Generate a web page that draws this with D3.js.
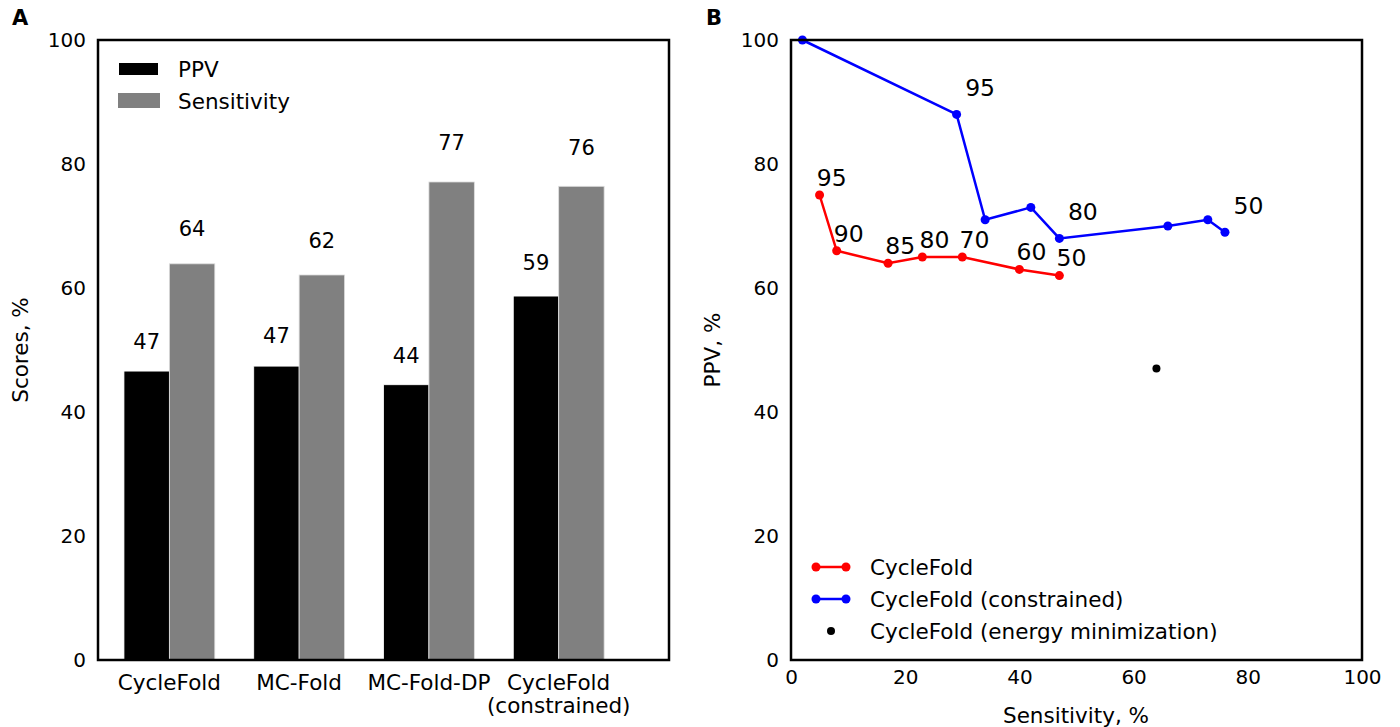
<!DOCTYPE html>
<html><head><meta charset="utf-8">
<script src="https://cdn.jsdelivr.net/npm/d3@7"></script>
<style>body{margin:0;background:#fff}svg text{font-family:"DejaVu Sans",sans-serif;fill:#000}</style>
</head><body><svg id="c" width="1400" height="727"></svg>
<script>
// Panel A data
const categories = ["CycleFold", "MC-Fold", "MC-Fold-DP", "CycleFold\n(constrained)"];
const ppvValues = [46.6, 47.4, 44.4, 58.7];
const sensValues = [63.9, 62.1, 77.1, 76.4];
const yTicksA = [0, 20, 40, 60, 80, 100];
// Panel B data
const cfSens = [5, 8, 17, 23, 30, 40, 47];
const cfPPV = [75, 66, 64, 65, 65, 63, 62];
const cfLabels = ["95", "90", "85", "80", "70", "60", "50"];
const cnSens = [2, 29, 34, 42, 47, 66, 73, 76];
const cnPPV = [100, 88, 71, 73, 68, 70, 71, 69];
const cnLabels = ["", "95", "", "", "80", "", "", "50"];
const emSens = [64];
const emPPV = [47];
const ticksB = [0, 20, 40, 60, 80, 100];

const svg = d3.select("#c");
const yTop = 40, yBot = 660;
const FS = 21.5, TFS = 20, AFS = 23.5;

// ---------- Panel A ----------
const xA = d3.scaleLinear().domain([-0.2, 4.2]).range([98, 669]);
const yA = d3.scaleLinear().domain([0, 100]).range([yBot, yTop]);
const bw = 0.35;
const gA = svg.append("g");
categories.forEach((c, i) => {
  gA.append("rect").attr("x", xA(i)).attr("y", yA(ppvValues[i]))
    .attr("width", xA(i + bw) - xA(i)).attr("height", yA(0) - yA(ppvValues[i]))
    .attr("fill", "#000").attr("stroke", "#fff").attr("stroke-width", 0.8);
  gA.append("rect").attr("x", xA(i + bw)).attr("y", yA(sensValues[i]))
    .attr("width", xA(i + 2 * bw) - xA(i + bw)).attr("height", yA(0) - yA(sensValues[i]))
    .attr("fill", "#808080").attr("stroke", "#ddd").attr("stroke-width", 0.8);
  [[ppvValues[i], i + bw / 2], [sensValues[i], i + 1.5 * bw]].forEach(([v, xc]) => {
    gA.append("text").attr("x", xA(xc)).attr("y", yA(v * 1.05 + 1.3))
      .attr("text-anchor", "middle").attr("font-size", 21).text(Math.round(v));
  });
  const lines = c.split("\n");
  lines.forEach((ln, k) => {
    gA.append("text").attr("x", xA(i + bw)).attr("y", 690 + k * 23)
      .attr("text-anchor", "middle").attr("font-size", FS).text(ln);
  });
});
const axA = svg.append("g").attr("transform", "translate(98,0)")
  .call(d3.axisLeft(yA).tickValues(yTicksA).tickSize(0).tickPadding(12));
axA.select(".domain").remove();
axA.selectAll("text").attr("font-size", TFS).attr("font-family", "DejaVu Sans");
svg.append("rect").attr("x", 98).attr("y", yTop).attr("width", 669 - 98).attr("height", yBot - yTop)
  .attr("fill", "none").attr("stroke", "#000").attr("stroke-width", 2.5);
svg.append("text").attr("transform", "translate(28,350) rotate(-90)").attr("text-anchor", "middle")
  .attr("font-size", FS).text("Scores, %");
// legend A
svg.append("rect").attr("x", 119).attr("y", 63).attr("width", 39).attr("height", 12).attr("fill", "#000");
svg.append("rect").attr("x", 118).attr("y", 93).attr("width", 42).attr("height", 15).attr("fill", "#808080");
svg.append("text").attr("x", 178).attr("y", 77).attr("font-size", FS).text("PPV");
svg.append("text").attr("x", 178).attr("y", 109).attr("font-size", FS).text("Sensitivity");
svg.append("text").attr("x", 12).attr("y", 25).attr("font-size", 21).attr("font-weight", "bold").text("A");

// ---------- Panel B ----------
const xB = d3.scaleLinear().domain([0, 100]).range([791, 1362]);
const yB = d3.scaleLinear().domain([0, 100]).range([yBot, yTop]);
const line = d3.line().x(d => xB(d[0])).y(d => yB(d[1]));
const cf = cfSens.map((s, i) => [s, cfPPV[i]]);
const cn = cnSens.map((s, i) => [s, cnPPV[i]]);
const gB = svg.append("g");
gB.append("path").datum(cf).attr("d", line).attr("fill", "none").attr("stroke", "#f00").attr("stroke-width", 2.5);
gB.selectAll(".cfp").data(cf).join("circle").attr("cx", d => xB(d[0])).attr("cy", d => yB(d[1])).attr("r", 4.5).attr("fill", "#f00");
gB.append("path").datum(cn).attr("d", line).attr("fill", "none").attr("stroke", "#00f").attr("stroke-width", 2.5);
gB.selectAll(".cnp").data(cn).join("circle").attr("cx", d => xB(d[0])).attr("cy", d => yB(d[1])).attr("r", 4.5).attr("fill", "#00f");
gB.selectAll(".emp").data(emSens.map((s, i) => [s, emPPV[i]])).join("circle")
  .attr("cx", d => xB(d[0])).attr("cy", d => yB(d[1])).attr("r", 4).attr("fill", "#000");
cf.forEach((d, i) => {
  gB.append("text").attr("x", xB(d[0] - 0.5)).attr("y", yB(d[1] + 1.5)).attr("font-size", AFS).text(cfLabels[i]);
});
cn.forEach((d, i) => {
  if (!cnLabels[i]) return;
  gB.append("text").attr("x", xB(d[0] + 1.5)).attr("y", yB(d[1] + 3)).attr("font-size", AFS).text(cnLabels[i]);
});
const axBy = svg.append("g").attr("transform", "translate(791,0)")
  .call(d3.axisLeft(yB).tickValues(ticksB).tickSize(0).tickPadding(12));
axBy.select(".domain").remove();
axBy.selectAll("text").attr("font-size", TFS).attr("font-family", "DejaVu Sans");
const axBx = svg.append("g").attr("transform", `translate(0,${yBot})`)
  .call(d3.axisBottom(xB).tickValues(ticksB).tickSize(0).tickPadding(10));
axBx.select(".domain").remove();
axBx.selectAll("text").attr("font-size", TFS).attr("font-family", "DejaVu Sans");
svg.append("rect").attr("x", 791).attr("y", yTop).attr("width", 1362 - 791).attr("height", yBot - yTop)
  .attr("fill", "none").attr("stroke", "#000").attr("stroke-width", 2.5);
svg.append("text").attr("x", 1076).attr("y", 723).attr("text-anchor", "middle").attr("font-size", FS).text("Sensitivity, %");
svg.append("text").attr("transform", "translate(720,350) rotate(-90)").attr("text-anchor", "middle")
  .attr("font-size", FS).text("PPV, %");
svg.append("text").attr("x", 706).attr("y", 25).attr("font-size", 21).attr("font-weight", "bold").text("B");
// legend B
const legB = [["CycleFold", "#f00", true], ["CycleFold (constrained)", "#00f", true], ["CycleFold (energy minimization)", "#000", false]];
legB.forEach(([t, col, ln], k) => {
  const yy = 567 + k * 32;
  if (ln) {
    svg.append("line").attr("x1", 816).attr("x2", 846).attr("y1", yy).attr("y2", yy).attr("stroke", col).attr("stroke-width", 2.5);
    svg.append("circle").attr("cx", 816).attr("cy", yy).attr("r", 4.5).attr("fill", col);
    svg.append("circle").attr("cx", 846).attr("cy", yy).attr("r", 4.5).attr("fill", col);
  } else {
    svg.append("circle").attr("cx", 831).attr("cy", yy).attr("r", 4).attr("fill", col);
  }
  svg.append("text").attr("x", 870).attr("y", yy + 8).attr("font-size", FS).text(t);
});
</script></body></html>
